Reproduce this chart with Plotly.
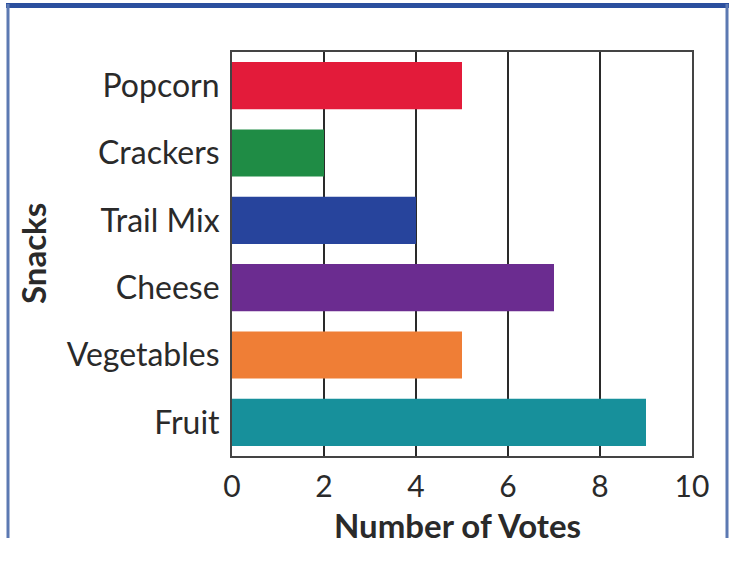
import plotly.graph_objects as go

# snack votes
snacks = ["Popcorn", "Crackers", "Trail Mix", "Cheese", "Vegetables", "Fruit"]
votes = [5, 2, 4, 7, 5, 9]
bar_colors = ["#E31B3A", "#1F8C45", "#27449C", "#6B2C90", "#EF7E36", "#17909B"]
x_ticks = [0, 2, 4, 6, 8, 10]

W, H = 731, 583
L, R, T, B = 232, 39, 52, 127
pw, ph = W - L - R, H - T - B


def px_x(x):
    return (x - L) / pw


def px_y(y):
    return (H - B - y) / ph


fig = go.Figure(go.Bar(
    x=votes,
    y=snacks,
    orientation="h",
    width=0.7,
    marker=dict(color=bar_colors, line=dict(width=0)),
    hoverinfo="x+y",
))

fig.update_xaxes(
    range=[0, 10],
    tickvals=x_ticks,
    showgrid=True,
    gridcolor="#2a2a2a",
    gridwidth=1.5,
    zeroline=False,
    showline=True,
    linecolor="#444444",
    linewidth=2,
    mirror=True,
    ticks="inside",
    ticklen=8,
    tickcolor="#2a2a2a",
    tickfont=dict(family="Lato", size=30, color="#2a2a2a"),
    ticklabelstandoff=3,
)
fig.update_yaxes(
    type="category",
    categoryorder="array",
    categoryarray=snacks,
    range=[5.5, -0.5],
    showgrid=False,
    zeroline=False,
    showline=True,
    linecolor="#444444",
    linewidth=2,
    mirror=True,
    ticks="",
    tickfont=dict(family="Lato", size=32, color="#2a2a2a"),
    ticklabelstandoff=4,
)

blue = "#2B4F9E"
fig.update_layout(
    width=W,
    height=H,
    margin=dict(l=L, r=R, t=T, b=B, autoexpand=False),
    paper_bgcolor="white",
    plot_bgcolor="white",
    showlegend=False,
    annotations=[
        dict(text="<b>Snacks</b>", x=px_x(33), y=px_y(254), xref="paper", yref="paper",
             textangle=-90, showarrow=False, xanchor="center", yanchor="middle",
             font=dict(family="Lato", size=33, color="#2a2a2a")),
        dict(text="<b>Number of Votes</b>", x=px_x(457), y=px_y(525), xref="paper", yref="paper",
             showarrow=False, xanchor="center", yanchor="middle",
             font=dict(family="Lato", size=33, color="#2a2a2a")),
    ],
    shapes=[
        # blue frame round the figure (open at the bottom)
        dict(type="line", xref="paper", yref="paper", x0=px_x(6), x1=px_x(729),
             y0=px_y(5.5), y1=px_y(5.5), line=dict(color=blue, width=5)),
        dict(type="line", xref="paper", yref="paper", x0=px_x(8), x1=px_x(8),
             y0=px_y(4), y1=px_y(538), line=dict(color="#5C79B2", width=3)),
        dict(type="line", xref="paper", yref="paper", x0=px_x(727), x1=px_x(727),
             y0=px_y(4), y1=px_y(538), line=dict(color="#5C79B2", width=3)),
    ],
)

# the page body has a default 8px margin; drop it so the figure sits at 0,0
fig.write_html("out.html", config={"displayModeBar": False},
               post_script="document.body.style.margin='0';")
